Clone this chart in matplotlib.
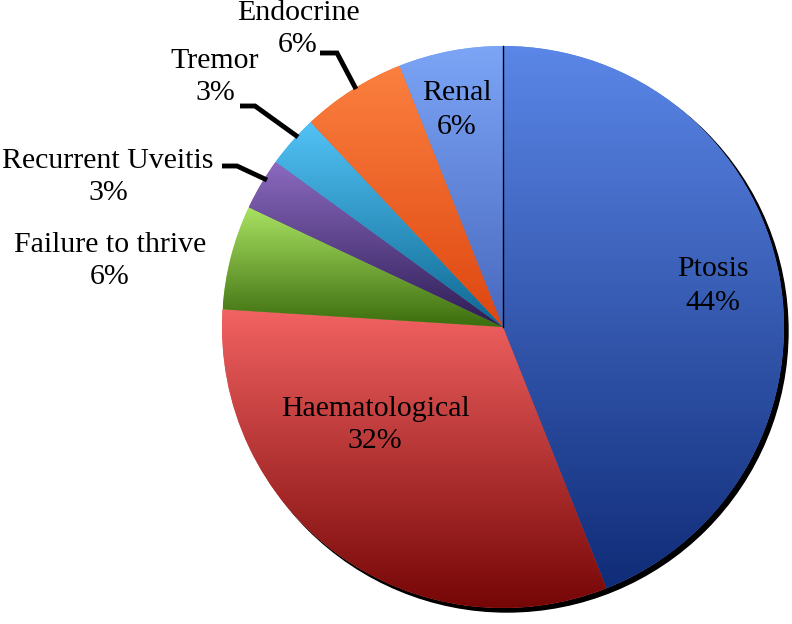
import matplotlib
matplotlib.use("Agg")
import matplotlib.pyplot as plt
import numpy as np
from matplotlib.colors import LinearSegmentedColormap
from matplotlib.patches import Circle

# data (clockwise from 12 o'clock)
labels = ["Ptosis", "Haematological", "Failure to thrive", "Recurrent Uveitis",
          "Tremor", "Endocrine", "Renal"]
percents = [44, 32, 6, 3, 3, 6, 6]

# gradient colours per slice (top, bottom)
top_colors = ["#5b87e8", "#f26262", "#a9e262", "#8c6ac0", "#52c2f6", "#fb8040", "#7ca5f6"]
bottom_colors = ["#102c78", "#760606", "#3c6c0e", "#2c1c54", "#0e6890", "#de4610", "#4868be"]

# label centres in pixel coords (x, y from top) and optional leader lines
label_pos = [(713, 286), (375, 425), (110, 261), (108, 177), (215, 77), (298, 29), (457, 110)]
leaders = {
    3: [(222, 166), (237, 166), (267, 180)],
    4: [(240, 106), (255, 106), (298, 137)],
    5: [(320, 53), (337, 53), (356, 89)],
}

W, H = 792, 624
cx, cy, r = 503, H - 327, 281

plt.rcParams['font.family'] = ['Liberation Serif', 'DejaVu Serif']

fig = plt.figure(figsize=(W / 100, H / 100), dpi=100)
ax = fig.add_axes([0, 0, 1, 1])

# drop shadow on the lower right
ax.add_patch(Circle((cx + 4, cy - 4), r, color="black", zorder=0))

wedges, _ = ax.pie(percents, startangle=90, counterclock=False, center=(cx, cy),
                   radius=r, colors=top_colors, wedgeprops=dict(linewidth=0))

grad = np.linspace(0, 1, 256).reshape(-1, 1)
for w, c0, c1 in zip(wedges, top_colors, bottom_colors):
    w.set_zorder(1)
    ext = w.get_path().get_extents()
    cmap = LinearSegmentedColormap.from_list("g", [c0, c1])
    im = ax.imshow(grad, extent=(ext.x0, ext.x1, ext.y0, ext.y1), origin="upper",
                   cmap=cmap, aspect="auto", interpolation="bilinear", zorder=2)
    im.set_clip_path(w)

# thin divider at 12 o'clock
ax.plot([cx, cx], [cy, cy + r], color="black", lw=1, zorder=3)

for i, (lab, p) in enumerate(zip(labels, percents)):
    x, y = label_pos[i]
    ax.text(x, H - y, f"{lab}\n{p}%", ha="center", va="center", fontsize=21.5,
            linespacing=1.35, color="black", zorder=5)
    if i in leaders:
        pts = np.array(leaders[i], dtype=float)
        ax.plot(pts[:, 0], H - pts[:, 1], color="black", lw=3.5,
                solid_capstyle="butt", solid_joinstyle="miter", zorder=4)

ax.set_xlim(0, W)
ax.set_ylim(0, H)
ax.set_aspect("equal")
ax.axis("off")

fig.savefig("out.png", dpi=100)
